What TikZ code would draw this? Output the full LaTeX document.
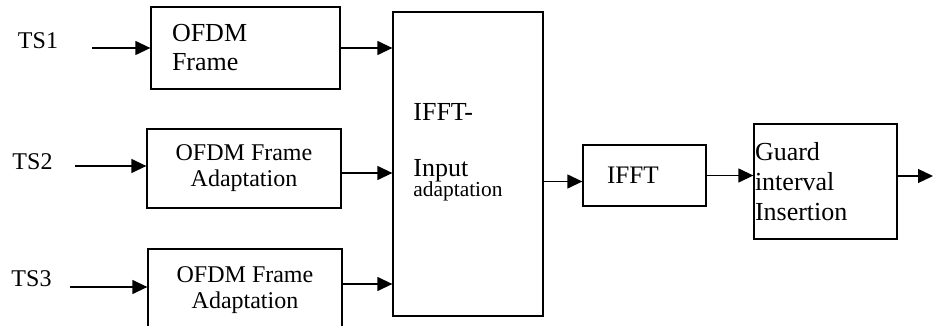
\documentclass[tikz,border=0pt]{standalone}
\usepackage{fontspec}
\setmainfont{Liberation Serif}
\usetikzlibrary{arrows.meta}

\begin{document}
\begin{tikzpicture}[x=0.5pt, y=-0.5pt,
    block/.style={draw, line width=0.65pt, inner sep=0pt},
    lbl/.style={font=\fontsize{12}{14}\selectfont},
    arr/.style={line width=0.65pt, -{Triangle[length=7.5pt, width=7pt]}}]
    \clip (0,0) rectangle (933,326);

    % stream labels
    \node[lbl] (ts1) at (38,41) {TS1};
    \node[lbl] (ts2) at (32.5,161.5) {TS2};
    \node[lbl] (ts3) at (31.5,279) {TS3};

    % blocks
    \node[block, minimum height=41pt, text width=73.5pt, inner xsep=10.5pt, align=left, font=\fontsize{13}{14.5}\selectfont] (frame1) at (245.5,48) {OFDM\\Frame};
    \node[block, minimum width=97pt, minimum height=39.5pt, align=center, font=\fontsize{12}{13}\selectfont] (frame2) at (244,168.5) {OFDM Frame\\Adaptation};
    \node[block, minimum width=97pt, minimum height=41.5pt, align=center, font=\fontsize{12}{13}\selectfont] (frame3) at (245,290.5) {OFDM Frame\\Adaptation};
    \node[block, minimum width=75pt, minimum height=152pt] (adapt) at (468,164) {};
    \node[anchor=north west, inner sep=0pt, align=left, font=\fontsize{13}{14.5}\selectfont] (adaptlbl) at (413,103) {IFFT-\\[13.5pt]Input\\[-4.3pt]{\fontsize{10.7}{14.5}\selectfont adaptation}};
    \node[block, minimum height=30.5pt, text width=37.5pt, inner xsep=12pt, align=left, font=\fontsize{12.6}{14}\selectfont] (ifft) at (644.5,175.5) {IFFT};
    \node[block, minimum height=57.5pt, text width=70.5pt, inner xsep=0.5pt, align=left, font=\fontsize{13}{15}\selectfont] (guard) at (825.5,181.5) {Guard\\interval\\Insertion};

    % free ends
    \coordinate (in1) at (92,48);
    \coordinate (in2) at (75,166);
    \coordinate (in3) at (70,287);
    \coordinate (f2out) at ([yshift=-2.25pt]frame2.east);
    \coordinate (f3out) at ([yshift=3.25pt]frame3.east);
    \coordinate (ifftin) at ([yshift=-3pt]ifft.west);
    \coordinate (out) at (933,176);

    \draw[arr] (in1) -- (in1 -| frame1.west);
    \draw[arr] (in2) -- (in2 -| frame2.west);
    \draw[arr] (in3) -- (in3 -| frame3.west);
    \draw[arr] (frame1.east) -- (frame1.east -| adapt.west);
    \draw[arr] (f2out) -- (f2out -| adapt.west);
    \draw[arr] (f3out) -- (f3out -| adapt.west);
    \draw[arr] (ifftin -| adapt.east) -- (ifftin);
    \draw[arr] (ifft.east) -- (ifft.east -| guard.west);
    \draw[arr] (out -| guard.east) -- (out);
\end{tikzpicture}
\end{document}
